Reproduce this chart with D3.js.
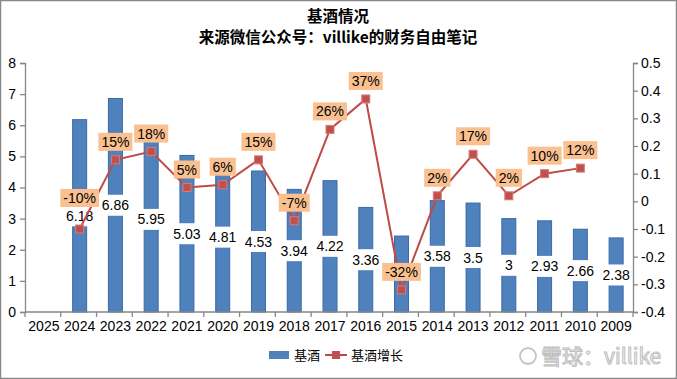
<!DOCTYPE html>
<html><head><meta charset="utf-8">
<script src="https://cdn.jsdelivr.net/npm/d3@7"></script>
<style>
html,body{margin:0;padding:0;background:#fff;}
svg{display:block;font-family:"Liberation Sans",Arial,sans-serif;}
</style></head>
<body>
<svg id="chart" width="677" height="379"></svg>
<script>
const titleText = "基酒情况";
const subtitleText = "来源微信公众号：villike的财务自由笔记";
const years = ["2025","2024","2023","2022","2021","2020","2019","2018","2017","2016","2015","2014","2013","2012","2011","2010","2009"];
const baseWine = [null,6.18,6.86,5.95,5.03,4.81,4.53,3.94,4.22,3.36,2.44,3.58,3.5,3,2.93,2.66,2.38];
const baseWineGrowth = [null,-0.10,0.15,0.18,0.05,0.06,0.15,-0.07,0.26,0.37,-0.32,0.02,0.17,0.02,0.10,0.12,null];
const growthLabels = [null,"-10%","15%","18%","5%","6%","15%","-7%","26%","37%","-32%","2%","17%","2%","10%","12%",null];
const leftTicks = [0,1,2,3,4,5,6,7,8];
const rightTicks = [-0.4,-0.3,-0.2,-0.1,0,0.1,0.2,0.3,0.4,0.5];
const legendNames = ["基酒","基酒增长"];

const svg = d3.select("#chart");
const W = 677, H = 379;
const L = 25, R = 633, T = 63, B = 312;

// border
svg.append("rect").attr("x",0.5).attr("y",0.5).attr("width",W-1).attr("height",H-1)
  .attr("fill","#fff").attr("stroke","#888").attr("stroke-width",1.5);

// titles
svg.append("text").attr("x",338).attr("y",22).attr("text-anchor","middle")
  .attr("font-family","'Noto Sans CJK SC',sans-serif").attr("font-weight","bold").attr("font-size",15.5)
  .text(titleText);
svg.append("text").attr("x",338).attr("y",43).attr("text-anchor","middle")
  .attr("font-family","'Noto Sans CJK SC',sans-serif").attr("font-weight","bold").attr("font-size",15.5)
  .text(subtitleText);

const x = d3.scaleBand().domain(years).range([L,R]).padding(0);
const yL = d3.scaleLinear().domain([0,8]).range([B,T]);
const yR = d3.scaleLinear().domain([-0.4,0.5]).range([B,T]);
const barW = 14;
const cx = d => x(d) + x.bandwidth()/2 + 1;

// bars
const barData = years.map((y,i)=>({year:y,v:baseWine[i]})).filter(d=>d.v!=null);
svg.append("g").selectAll("rect").data(barData).join("rect")
  .attr("x",d=>cx(d.year)-barW/2).attr("y",d=>yL(d.v))
  .attr("width",barW).attr("height",d=>yL(0)-yL(d.v))
  .attr("fill","#4F81BD").attr("stroke","#3A6AA6").attr("stroke-width",1);

// bar labels with white background
const bl = svg.append("g");
barData.forEach(d=>{
  if (d.year === "2015") return; // hidden under growth label in the original
  const my = yL(d.v/2);
  const t = bl.append("text").attr("x",cx(d.year)).attr("y",my+5).attr("text-anchor","middle")
    .attr("font-size",14).attr("fill","#000").text(d.v);
  const w = Math.max(t.node().getComputedTextLength()+4, barW+4);
  bl.insert("rect","text:last-child").attr("x",cx(d.year)-w/2).attr("y",my-10.5)
    .attr("width",w).attr("height",21).attr("fill","#fff");
});

// axes
const axisColor = "#878787";
const gL = svg.append("g").attr("transform",`translate(${L},0)`)
  .call(d3.axisLeft(yL).tickValues(leftTicks).tickSize(5).tickPadding(4).tickFormat(d3.format("d")));
const gR = svg.append("g").attr("transform",`translate(${R},0)`)
  .call(d3.axisRight(yR).tickValues(rightTicks).tickSize(5).tickPadding(3).tickFormat(d=>String(+d.toFixed(1))));
const gX = svg.append("g").attr("transform",`translate(0,${B})`)
  .call(d3.axisBottom(x).tickSize(0).tickPadding(9));
[gL,gR,gX].forEach(g=>{
  g.select(".domain").attr("stroke",axisColor).attr("stroke-width",1.3);
  g.selectAll(".tick line").attr("stroke",axisColor).attr("stroke-width",1.3);
  g.selectAll(".tick text").attr("font-size",14).attr("fill","#000").attr("font-family","'Liberation Sans',Arial,sans-serif");
});
gX.select(".domain").attr("d",`M${L},0H${R}`);
// x ticks at band boundaries
gX.selectAll(".bt").data(years.concat(["end"])).join("line").attr("class","bt")
  .attr("x1",(d,i)=>L+i*x.bandwidth()).attr("x2",(d,i)=>L+i*x.bandwidth())
  .attr("y1",0).attr("y2",5).attr("stroke",axisColor).attr("stroke-width",1.3);
gX.selectAll(".tick text").attr("dx",1);

// growth line
const lineData = years.map((y,i)=>({year:y,v:baseWineGrowth[i],lab:growthLabels[i]})).filter(d=>d.v!=null);
svg.append("path").datum(lineData)
  .attr("d",d3.line().x(d=>cx(d.year)).y(d=>yR(d.v)))
  .attr("fill","none").attr("stroke","#BE4B48").attr("stroke-width",2);
svg.append("g").selectAll("rect").data(lineData).join("rect")
  .attr("x",d=>cx(d.year)-4).attr("y",d=>yR(d.v)-4).attr("width",8).attr("height",8)
  .attr("fill","#C0504D").attr("stroke","#D97A77").attr("stroke-width",1);

// growth labels
const labelNudge = {"2024":-13};
const gl = svg.append("g");
lineData.forEach(d=>{
  const ly = yR(d.v) - 18 + (labelNudge[d.year]||0);
  const t = gl.append("text").attr("x",cx(d.year)).attr("y",ly+5).attr("text-anchor","middle")
    .attr("font-size",14).attr("fill","#000").text(d.lab);
  const w = t.node().getComputedTextLength();
  gl.insert("rect","text:last-child").attr("x",cx(d.year)-w/2-3).attr("y",ly-9)
    .attr("width",w+6).attr("height",18).attr("fill","#FAC090");
});

// legend
const lg = svg.append("g").attr("font-family","'Noto Sans CJK SC',sans-serif").attr("font-size",13);
lg.append("rect").attr("x",269).attr("y",351).attr("width",20).attr("height",8).attr("fill","#4F81BD");
lg.append("text").attr("x",294).attr("y",360).text(legendNames[0]);
lg.append("line").attr("x1",325).attr("x2",347).attr("y1",355).attr("y2",355).attr("stroke","#BE4B48").attr("stroke-width",2);
lg.append("rect").attr("x",332).attr("y",351).attr("width",8).attr("height",8).attr("fill","#C0504D");
lg.append("text").attr("x",351).attr("y",360).text(legendNames[1]);

// watermark
const wm = svg.append("g");
wm.append("circle").attr("cx",528).attr("cy",356).attr("r",8).attr("fill","none").attr("stroke","#c4c4c4").attr("stroke-width",1.8);
wm.append("text").attr("x",541).attr("y",364).attr("font-family","'Noto Sans CJK SC',sans-serif").attr("font-size",21)
  .attr("fill","#f4f4f4").attr("stroke","#c0c0c0").attr("stroke-width",1).text("雪球：villike");
</script>
</body></html>
